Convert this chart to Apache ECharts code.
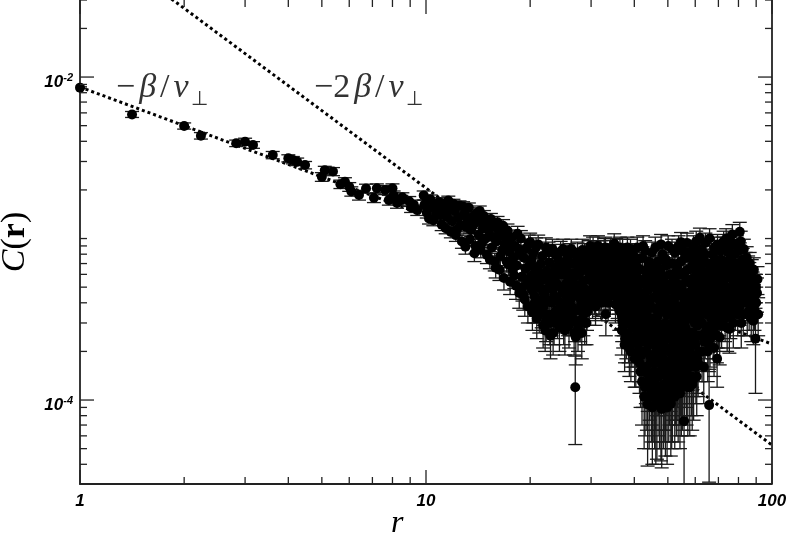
<!DOCTYPE html>
<html>
<head>
<meta charset="utf-8">
<script src="https://cdn.jsdelivr.net/npm/echarts@6/dist/echarts.min.js"></script>
<style>
html,body{margin:0;padding:0;background:#fff;}
#chart{width:789px;height:535px;}
</style>
</head>
<body>
<div id="chart"></div>
<script>
// ---- data: [r, C(r), error] ----
const pointsA = [
  [1.0, 8.6e-3, 1.0e-4], [1.414, 5.87e-3, 2.5e-4], [2.0, 4.98e-3, 2.2e-4], [2.236, 4.33e-3, 2.0e-4],
  [2.828, 3.89e-3, 1.8e-4], [3.0, 3.98e-3, 2.0e-4], [3.162, 3.80e-3, 1.8e-4], [3.606, 3.29e-3, 1.7e-4],
  [4.0, 3.14e-3, 1.6e-4], [4.123, 3.06e-3, 1.6e-4], [4.243, 2.99e-3, 1.6e-4], [4.472, 2.85e-3, 1.5e-4],
  [5.0, 2.41e-3, 1.5e-4], [5.099, 2.65e-3, 1.5e-4], [5.385, 2.60e-3, 1.5e-4], [5.657, 2.17e-3, 1.3e-4],
  [5.831, 2.25e-3, 1.3e-4], [6.0, 2.09e-3, 1.3e-4], [6.083, 1.96e-3, 1.3e-4], [6.403, 1.86e-3, 1.3e-4],
  [6.708, 2.04e-3, 1.3e-4], [7.071, 1.79e-3, 1.2e-4], [7.211, 2.05e-3, 1.3e-4], [7.616, 2.0e-3, 1.3e-4],
  [7.81, 1.73e-3, 1.2e-4], [8.0, 2.05e-3, 1.3e-4], [8.062, 1.85e-3, 1.2e-4], [8.246, 1.66e-3, 1.2e-4],
  [8.485, 1.73e-3, 1.2e-4], [8.544, 1.80e-3, 1.2e-4], [8.944, 1.70e-3, 1.2e-4], [9.055, 1.56e-3, 1.1e-4],
  [9.22, 1.62e-3, 1.1e-4], [9.434, 1.50e-3, 1.1e-4], [9.849, 1.85e-3, 1.2e-4], [9.899, 1.62e-3, 1.1e-4],
  [10.05, 1.45e-3, 1.1e-4], [10.2, 1.33e-3, 1.0e-4], [10.44, 1.55e-3, 1.1e-4], [10.63, 1.58e-3, 1.1e-4],
  [10.82, 1.47e-3, 1.1e-4], [11.0, 1.40e-3, 1.0e-4]
];
const pointsB = [
  [10.3, 1.75e-3, 1.1e-4], [10.5, 1.30e-3, 1.0e-4], [10.7, 1.40e-3, 1.0e-4], [10.9, 1.68e-3, 1.1e-4],
  [11.1, 1.22e-3, 1.0e-4], [11.2, 1.52e-3, 1.1e-4], [11.3, 1.64e-3, 1.1e-4], [11.4, 1.16e-3, 9e-5],
  [11.5, 1.36e-3, 1.0e-4], [11.6, 1.72e-3, 1.1e-4], [11.7, 1.50e-3, 1.1e-4], [11.8, 1.10e-3, 9e-5],
  [11.9, 1.28e-3, 1.0e-4], [12.0, 1.64e-3, 1.1e-4], [12.1, 1.48e-3, 1.1e-4], [12.2, 1.05e-3, 9e-5],
  [12.3, 1.14e-3, 9e-5], [12.4, 1.35e-3, 1.0e-4], [12.5, 1.60e-3, 1.1e-4], [12.6, 1.21e-3, 1.0e-4],
  [12.7, 9.6e-4, 9e-5], [12.8, 1.58e-3, 1.1e-4], [12.9, 1.42e-3, 1.0e-4], [13.0, 8.9e-4, 9e-5],
  [13.1, 1.18e-3, 1.0e-4], [13.2, 1.30e-3, 1.0e-4], [13.3, 1.55e-3, 1.1e-4], [13.4, 9.9e-4, 9e-5],
  [13.5, 1.13e-3, 1.0e-4], [13.6, 1.36e-3, 1.0e-4], [13.7, 1.22e-3, 1.0e-4], [13.8, 8.1e-4, 9e-5],
  [13.9, 9.0e-4, 9e-5], [14.0, 1.44e-3, 1.1e-4], [14.1, 1.28e-3, 1.0e-4], [14.2, 1.05e-3, 1.0e-4],
  [14.3, 1.48e-3, 1.1e-4], [14.4, 8.5e-4, 9e-5], [14.5, 9.4e-4, 1.0e-4], [14.6, 1.16e-3, 1.0e-4],
  [14.7, 1.38e-3, 1.1e-4], [14.8, 1.25e-3, 1.1e-4], [14.9, 1.0e-3, 1.0e-4], [15.0, 7.9e-4, 9e-5],
  [15.1, 1.26e-3, 1.1e-4], [15.2, 1.12e-3, 1.0e-4], [15.3, 7.4e-4, 9e-5], [15.4, 1.32e-3, 1.1e-4],
  [15.5, 8.8e-4, 1.0e-4], [15.6, 1.02e-3, 1.0e-4], [15.7, 1.20e-3, 1.1e-4], [15.8, 7.2e-4, 9e-5],
  [15.9, 6.6e-4, 9e-5], [16.0, 9.6e-4, 1.0e-4], [16.1, 1.26e-3, 1.1e-4], [16.2, 1.13e-3, 1.1e-4],
  [16.3, 6.4e-4, 9e-5], [16.4, 7.8e-4, 1.0e-4], [16.5, 1.06e-3, 1.1e-4], [16.6, 8.5e-4, 1.0e-4],
  [16.7, 1.20e-3, 1.1e-4], [16.8, 5.7e-4, 9e-5], [16.9, 9.2e-4, 1.0e-4], [17.0, 1.0e-3, 1.1e-4],
  [17.1, 7.2e-4, 1.0e-4], [17.2, 1.12e-3, 1.1e-4], [17.3, 6.9e-4, 1.0e-4], [17.4, 8.3e-4, 1.0e-4],
  [17.5, 5.4e-4, 9e-5], [17.6, 9.1e-4, 1.1e-4], [17.7, 1.02e-3, 1.1e-4], [17.8, 6.4e-4, 1.0e-4],
  [17.9, 7.6e-4, 1.0e-4], [18.0, 5.9e-4, 1.0e-4], [18.1, 9.0e-4, 1.1e-4], [18.2, 5.1e-4, 9e-5],
  [18.3, 6.8e-4, 1.0e-4], [18.4, 1.07e-3, 1.2e-4], [18.5, 8.6e-4, 1.1e-4], [18.6, 4.6e-4, 9e-5],
  [18.7, 8.0e-4, 1.1e-4], [18.8, 1.0e-3, 1.2e-4], [18.9, 5.8e-4, 1.0e-4], [19.0, 5.0e-4, 9e-5],
  [19.1, 4.5e-4, 9e-5], [19.2, 7.6e-4, 1.1e-4], [19.3, 4.2e-4, 9e-5], [19.4, 6.5e-4, 1.0e-4],
  [19.5, 8.7e-4, 1.2e-4], [19.6, 5.5e-4, 1.0e-4], [19.7, 3.8e-4, 8e-5], [19.8, 9.3e-4, 1.2e-4],
  [19.9, 6.8e-4, 1.1e-4]
];
const pointsC = [
  [20.0, 9.5e-4, 1.3e-4], [20.1, 5.1e-4, 1.0e-4], [20.2, 7.4e-4, 1.1e-4], [20.3, 3.5e-4, 8e-5],
  [20.4, 8.1e-4, 1.2e-4], [20.5, 6.0e-4, 1.1e-4], [20.6, 4.4e-4, 9e-5], [20.7, 6.6e-4, 1.1e-4],
  [20.8, 8.8e-4, 1.3e-4], [20.9, 3.2e-4, 8e-5], [21.0, 3.8e-4, 8e-5], [21.1, 9.2e-4, 1.3e-4],
  [21.2, 5.3e-4, 1.0e-4], [21.3, 6.0e-4, 1.1e-4], [21.4, 4.1e-4, 9e-5], [21.5, 7.0e-4, 1.2e-4],
  [21.6, 3.6e-4, 8e-5], [21.7, 7.8e-4, 1.2e-4], [21.8, 2.9e-4, 8e-5], [21.9, 4.6e-4, 9e-5],
  [22.0, 5.6e-4, 1.1e-4], [22.1, 2.7e-4, 7e-5], [22.2, 8.8e-4, 1.3e-4], [22.3, 6.3e-4, 1.2e-4],
  [22.4, 3.4e-4, 8e-5], [22.5, 4.9e-4, 1.0e-4], [22.6, 8.2e-4, 1.3e-4], [22.7, 7.1e-4, 1.2e-4],
  [22.8, 3.0e-4, 8e-5], [22.9, 2.5e-4, 7e-5], [23.0, 6.0e-4, 1.1e-4], [23.1, 4.0e-4, 9e-5],
  [23.2, 8.6e-4, 1.3e-4], [23.3, 2.6e-4, 7e-5], [23.4, 5.6e-4, 1.1e-4], [23.5, 4.4e-4, 1.0e-4],
  [23.6, 6.6e-4, 1.2e-4], [23.7, 7.9e-4, 1.3e-4], [23.8, 3.6e-4, 9e-5], [23.9, 5.2e-4, 1.0e-4],
  [24.0, 3.2e-4, 8e-5], [24.1, 7.4e-4, 1.2e-4], [24.2, 6.7e-4, 1.2e-4], [24.3, 2.8e-4, 8e-5],
  [24.4, 4.0e-4, 9e-5], [24.5, 8.3e-4, 1.3e-4], [24.6, 6.0e-4, 1.1e-4], [24.7, 3.4e-4, 8e-5],
  [24.8, 4.6e-4, 1.0e-4], [24.9, 8.6e-4, 1.3e-4], [25.0, 3.0e-4, 8e-5], [25.1, 5.0e-4, 1.0e-4],
  [25.2, 2.7e-4, 8e-5], [25.3, 7.2e-4, 1.2e-4], [25.4, 6.6e-4, 1.2e-4], [25.5, 5.3e-4, 1.1e-4],
  [25.6, 4.0e-4, 9e-5], [25.7, 7.8e-4, 1.3e-4], [25.8, 3.6e-4, 9e-5], [25.9, 2.9e-4, 8e-5],
  [26.0, 8.0e-4, 1.3e-4], [26.1, 5.6e-4, 1.1e-4], [26.2, 4.2e-4, 9e-5], [26.3, 8.6e-4, 1.3e-4],
  [26.4, 3.3e-4, 8e-5], [26.5, 6.1e-4, 1.1e-4], [26.6, 7.0e-4, 1.2e-4], [26.7, 4.6e-4, 1.0e-4],
  [26.8, 2.6e-4, 7e-5], [26.9, 5.8e-4, 1.1e-4], [27.0, 1.2e-4, 6.7e-5], [27.1, 2.45e-4, 8e-5],
  [27.2, 3.6e-4, 9e-5], [27.3, 7.4e-4, 1.2e-4], [27.4, 8.2e-4, 1.3e-4], [27.5, 2.8e-4, 8e-5],
  [27.6, 5.0e-4, 1.0e-4], [27.7, 6.0e-4, 1.1e-4], [27.8, 4.3e-4, 1.0e-4], [27.9, 3.1e-4, 8e-5],
  [28.0, 7.2e-4, 1.2e-4], [28.1, 3.9e-4, 9e-5], [28.2, 2.6e-4, 8e-5], [28.3, 8.5e-4, 1.4e-4],
  [28.4, 5.4e-4, 1.1e-4], [28.5, 3.4e-4, 9e-5], [28.6, 6.4e-4, 1.2e-4], [28.7, 8.0e-4, 1.3e-4],
  [28.8, 4.8e-4, 1.0e-4], [28.9, 4.4e-4, 1.0e-4], [29.0, 6.6e-4, 1.2e-4], [29.1, 3.0e-4, 8e-5],
  [29.2, 3.5e-4, 8e-5], [29.3, 5.6e-4, 1.1e-4], [29.4, 4.0e-4, 9e-5], [29.5, 7.6e-4, 1.3e-4],
  [29.6, 8.4e-4, 1.3e-4], [29.7, 6.0e-4, 1.1e-4], [29.8, 9.0e-4, 1.4e-4]
];
const pointsD = [
  [29.9, 4.6e-4, 1.0e-4], [30.0, 5.5e-4, 1.1e-4], [30.1, 7.6e-4, 1.2e-4], [30.2, 6.2e-4, 1.1e-4],
  [30.3, 4.1e-4, 9e-5], [30.4, 8.8e-4, 1.4e-4], [30.5, 5.0e-4, 1.0e-4], [30.6, 7.1e-4, 1.2e-4],
  [30.7, 4.3e-4, 9e-5], [30.8, 6.6e-4, 1.2e-4], [30.9, 3.8e-4, 9e-5], [31.0, 7.8e-4, 1.3e-4],
  [31.1, 4.8e-4, 1.0e-4], [31.2, 8.4e-4, 1.3e-4], [31.3, 5.8e-4, 1.1e-4], [31.4, 9.0e-4, 1.4e-4],
  [31.5, 5.0e-4, 1.0e-4], [31.6, 4.2e-4, 9e-5], [31.7, 7.2e-4, 1.2e-4], [31.8, 6.3e-4, 1.1e-4],
  [31.9, 5.4e-4, 1.1e-4], [32.0, 8.4e-4, 1.3e-4], [32.1, 4.6e-4, 1.0e-4], [32.2, 4.0e-4, 9e-5],
  [32.3, 6.6e-4, 1.2e-4], [32.4, 5.2e-4, 1.0e-4], [32.5, 8.0e-4, 1.3e-4], [32.6, 7.6e-4, 1.3e-4],
  [32.7, 4.2e-4, 9e-5], [32.8, 5.8e-4, 1.1e-4], [32.9, 6.2e-4, 1.1e-4], [33.0, 8.8e-4, 1.4e-4],
  [33.1, 3.4e-4, 9e-5], [33.2, 5.0e-4, 1.0e-4], [33.4, 6.8e-4, 1.2e-4], [33.5, 7.0e-4, 1.2e-4],
  [33.6, 4.0e-4, 9e-5], [33.7, 7.8e-4, 1.3e-4], [33.8, 5.6e-4, 1.1e-4], [33.9, 4.6e-4, 1.0e-4],
  [34.0, 6.4e-4, 1.2e-4], [34.1, 4.4e-4, 1.0e-4], [34.2, 8.6e-4, 1.4e-4], [34.3, 7.2e-4, 1.2e-4],
  [34.4, 5.0e-4, 1.0e-4], [34.6, 5.4e-4, 1.1e-4], [34.7, 8.0e-4, 1.3e-4], [34.8, 6.0e-4, 1.1e-4],
  [35.0, 9.3e-4, 1.4e-4], [35.1, 4.6e-4, 1.0e-4], [35.2, 7.0e-4, 1.2e-4], [35.3, 3.9e-4, 9e-5],
  [35.4, 5.6e-4, 1.1e-4], [35.5, 8.6e-4, 1.4e-4], [35.7, 6.6e-4, 1.2e-4], [35.8, 4.2e-4, 1.0e-4],
  [35.9, 6.2e-4, 1.1e-4], [36.0, 7.6e-4, 1.3e-4], [36.1, 4.4e-4, 1.0e-4], [36.2, 3.6e-4, 9e-5],
  [36.3, 5.2e-4, 1.0e-4]
];
const pointsE = [
  [36.5, 8.0e-4, 1.3e-4], [36.6, 6.6e-4, 1.2e-4], [36.7, 4.0e-4, 9e-5], [36.8, 2.7e-4, 8e-5],
  [36.9, 3.1e-4, 8e-5], [37.0, 8.6e-4, 1.3e-4], [37.1, 4.8e-4, 1.0e-4], [37.2, 5.6e-4, 1.1e-4],
  [37.3, 3.4e-4, 9e-5], [37.4, 6.2e-4, 1.1e-4], [37.5, 2.2e-4, 7e-5], [37.6, 2.4e-4, 7e-5],
  [37.7, 7.8e-4, 1.3e-4], [37.8, 4.4e-4, 1.0e-4], [37.9, 7.2e-4, 1.2e-4], [38.0, 5.4e-4, 1.1e-4],
  [38.1, 3.0e-4, 8e-5], [38.2, 8.8e-4, 1.4e-4], [38.3, 4.2e-4, 1.0e-4], [38.4, 6.6e-4, 1.2e-4],
  [38.5, 2.5e-4, 8e-5], [38.6, 3.8e-4, 9e-5], [38.7, 2.1e-4, 7e-5], [38.8, 5.0e-4, 1.0e-4],
  [38.9, 7.2e-4, 1.2e-4], [39.0, 8.6e-4, 1.3e-4], [39.1, 2.0e-4, 7e-5], [39.2, 4.4e-4, 1.0e-4],
  [39.3, 6.0e-4, 1.1e-4], [39.4, 3.4e-4, 9e-5], [39.5, 2.8e-4, 8e-5], [39.6, 8.0e-4, 1.3e-4],
  [39.7, 3.6e-4, 9e-5], [39.8, 6.0e-4, 1.1e-4], [39.9, 5.2e-4, 1.0e-4], [40.0, 2.3e-4, 7e-5],
  [40.1, 1.8e-4, 6e-5], [40.2, 7.0e-4, 1.2e-4], [40.3, 3.2e-4, 9e-5], [40.4, 1.9e-4, 7e-5],
  [40.5, 4.8e-4, 1.0e-4], [40.6, 6.0e-4, 1.1e-4], [40.7, 4.0e-4, 9e-5], [40.8, 8.8e-4, 1.4e-4],
  [40.9, 2.7e-4, 8e-5], [41.0, 2.2e-4, 7e-5], [41.1, 5.2e-4, 1.0e-4], [41.2, 3.4e-4, 9e-5],
  [41.3, 7.5e-4, 1.3e-4], [41.4, 1.7e-4, 6e-5]
];
const pointsF = [
  [41.6, 6.4e-4, 1.2e-4], [41.7, 1.5e-4, 6e-5], [41.8, 2.6e-4, 8e-5], [41.9, 4.6e-4, 1.0e-4],
  [42.0, 3.8e-4, 9e-5], [42.1, 1.3e-4, 6e-5], [42.2, 7.6e-4, 1.3e-4], [42.3, 3.2e-4, 9e-5],
  [42.4, 9.0e-4, 1.4e-4], [42.5, 2.0e-4, 7e-5], [42.6, 5.6e-4, 1.1e-4], [42.7, 1.05e-4, 5.5e-5],
  [42.8, 2.3e-4, 8e-5], [42.9, 4.0e-4, 9e-5], [43.0, 8.4e-4, 1.3e-4], [43.1, 5.2e-4, 1.0e-4],
  [43.2, 1.6e-4, 6.5e-5], [43.3, 2.8e-4, 8e-5], [43.4, 6.2e-4, 1.2e-4], [43.5, 1.25e-4, 6e-5],
  [43.6, 3.6e-4, 9e-5], [43.7, 9.4e-5, 5.5e-5], [43.8, 4.8e-4, 1.0e-4], [43.9, 6.8e-4, 1.2e-4],
  [44.0, 2.2e-4, 7e-5], [44.1, 7.2e-4, 1.2e-4], [44.2, 3.0e-4, 8e-5], [44.3, 1.35e-4, 6e-5],
  [44.4, 4.2e-4, 1.0e-4], [44.5, 2.5e-4, 8e-5], [44.6, 1.7e-4, 7e-5], [44.7, 5.8e-4, 1.1e-4],
  [44.8, 1.15e-4, 6e-5], [44.9, 3.2e-4, 9e-5], [45.0, 8.2e-4, 1.3e-4], [45.1, 9.0e-5, 5e-5],
  [45.2, 1.9e-4, 7e-5], [45.3, 6.6e-4, 1.2e-4], [45.4, 4.3e-4, 1.0e-4], [45.5, 3.7e-4, 9e-5],
  [45.6, 1.5e-4, 6e-5], [45.7, 5.0e-4, 1.0e-4], [45.8, 1.05e-4, 5.5e-5], [45.9, 2.8e-4, 8e-5],
  [46.0, 8.8e-4, 1.4e-4], [46.1, 1.25e-4, 6e-5], [46.2, 2.6e-4, 8e-5], [46.3, 4.4e-4, 1.0e-4],
  [46.4, 2.1e-4, 7e-5], [46.5, 9.8e-5, 5.5e-5], [46.6, 6.0e-4, 1.1e-4], [46.7, 3.3e-4, 9e-5],
  [46.8, 7.2e-4, 1.2e-4], [46.9, 1.7e-4, 6.5e-5], [47.0, 1.4e-4, 6e-5], [47.1, 5.4e-4, 1.1e-4],
  [47.2, 2.4e-4, 8e-5], [47.3, 1.1e-4, 6e-5], [47.4, 3.5e-4, 9e-5], [47.5, 4.0e-4, 9e-5],
  [47.6, 6.4e-4, 1.2e-4], [47.7, 1.45e-4, 6e-5], [47.8, 9.2e-4, 1.4e-4], [47.9, 2.9e-4, 8e-5],
  [48.0, 8.8e-5, 5e-5], [48.1, 4.8e-4, 1.0e-4], [48.2, 2.0e-4, 7e-5], [48.3, 8.0e-4, 1.3e-4],
  [48.4, 1.8e-4, 6.5e-5], [48.5, 3.6e-4, 9e-5], [48.6, 5.0e-4, 1.0e-4], [48.7, 1.25e-4, 6e-5],
  [48.8, 5.8e-4, 1.1e-4], [48.9, 2.6e-4, 8e-5], [49.0, 1.15e-4, 6e-5], [49.1, 4.4e-4, 1.0e-4],
  [49.2, 1.0e-4, 5.5e-5], [49.3, 2.1e-4, 7e-5], [49.4, 7.4e-4, 1.2e-4], [49.5, 6.8e-4, 1.2e-4],
  [49.6, 3.4e-4, 9e-5], [49.7, 1.4e-4, 6e-5], [49.8, 2.9e-4, 8e-5], [49.9, 5.2e-4, 1.0e-4],
  [50.0, 2.4e-4, 8e-5], [50.1, 9.0e-4, 1.4e-4], [50.2, 1.6e-4, 6.5e-5], [50.3, 1.15e-4, 6e-5],
  [50.4, 4.2e-4, 1.0e-4], [50.5, 2.8e-4, 8e-5], [50.6, 4.0e-4, 9e-5], [50.7, 6.0e-4, 1.1e-4],
  [50.8, 1.7e-4, 6.5e-5], [50.9, 3.6e-4, 9e-5], [51.0, 9.5e-5, 5e-5], [51.1, 2.0e-4, 7e-5],
  [51.2, 4.8e-4, 1.0e-4], [51.3, 1.05e-4, 5.5e-5], [51.4, 8.6e-4, 1.3e-4], [51.5, 7.0e-4, 1.2e-4],
  [51.6, 3.0e-4, 9e-5], [51.7, 1.35e-4, 6e-5], [51.8, 2.3e-4, 7.5e-5], [51.9, 5.4e-4, 1.1e-4],
  [52.0, 2.5e-4, 8e-5], [52.1, 4.0e-4, 9e-5], [52.2, 5.6e-4, 1.1e-4], [52.3, 1.6e-4, 6.5e-5],
  [52.4, 8.2e-4, 1.3e-4], [52.5, 3.2e-4, 9e-5], [52.6, 1.3e-4, 6e-5], [52.7, 2.1e-4, 7e-5],
  [52.8, 6.2e-4, 1.2e-4], [52.9, 1.2e-4, 6e-5], [53.0, 3.3e-4, 9e-5], [53.1, 4.4e-4, 1.0e-4],
  [53.2, 2.7e-4, 8e-5], [53.3, 1.5e-4, 6e-5], [53.4, 6.8e-4, 1.2e-4], [53.5, 5.2e-4, 1.0e-4],
  [53.6, 3.6e-4, 9e-5], [53.7, 9.0e-4, 1.4e-4], [53.8, 1.9e-4, 7e-5], [53.9, 2.3e-4, 7.5e-5],
  [54.0, 1.3e-4, 6e-5], [54.1, 6.0e-4, 1.1e-4]
];
const pointsG = [
  [54.2, 1.1e-4, 6e-5], [54.3, 3.8e-4, 9e-5], [54.4, 2.0e-4, 7e-5], [54.5, 7.2e-4, 1.2e-4],
  [54.6, 9.5e-4, 1.4e-4], [54.7, 1.2e-4, 6e-5], [54.8, 5.0e-4, 1.0e-4], [54.9, 2.9e-4, 8e-5],
  [55.0, 4.5e-4, 1.0e-4], [55.1, 1.6e-4, 6.5e-5], [55.2, 8.4e-4, 1.3e-4], [55.3, 3.4e-4, 9e-5],
  [55.4, 2.6e-4, 8e-5], [55.5, 6.0e-4, 1.1e-4], [55.6, 2.3e-4, 7.5e-5], [55.7, 7.4e-5, 7.5e-5],
  [55.8, 4.2e-4, 1.0e-4], [55.9, 1.4e-4, 6e-5], [56.0, 6.2e-4, 1.1e-4], [56.1, 7.6e-4, 1.3e-4],
  [56.2, 2.8e-4, 8e-5], [56.4, 5.4e-4, 1.1e-4], [56.5, 1.5e-4, 6e-5], [56.6, 1.9e-4, 7e-5],
  [56.7, 3.8e-4, 9e-5], [56.8, 9.4e-4, 1.4e-4], [57.0, 3.6e-4, 9e-5], [57.1, 1.2e-4, 6e-5],
  [57.2, 6.4e-4, 1.2e-4], [57.3, 2.6e-4, 8e-5], [57.4, 8.2e-4, 1.3e-4], [57.5, 4.6e-4, 1.0e-4],
  [57.7, 1.6e-4, 6.5e-5], [57.8, 3.2e-4, 9e-5], [57.9, 2.1e-4, 7e-5], [58.0, 7.6e-4, 1.3e-4],
  [58.1, 2.2e-4, 7e-5], [58.3, 5.6e-4, 1.1e-4], [58.4, 5.2e-4, 1.0e-4], [58.5, 1.4e-4, 6e-5],
  [58.6, 3.8e-4, 9e-5], [58.8, 1.25e-4, 6e-5], [58.9, 6.8e-4, 1.2e-4], [59.0, 2.6e-4, 8e-5],
  [59.2, 4.6e-4, 1.0e-4], [59.3, 9.0e-4, 1.4e-4], [59.4, 1.7e-4, 6.5e-5], [59.5, 8.4e-4, 1.3e-4],
  [59.7, 3.4e-4, 9e-5], [59.8, 3.0e-4, 8e-5], [59.9, 5.8e-4, 1.1e-4], [60.0, 2.2e-4, 7e-5],
  [60.2, 4.0e-4, 9e-5], [60.3, 7.0e-4, 1.2e-4], [60.4, 9.6e-4, 1.5e-4], [60.6, 1.4e-4, 6e-5],
  [60.7, 6.2e-4, 1.2e-4], [60.8, 1.8e-4, 7e-5], [60.9, 2.9e-4, 8e-5], [61.1, 5.0e-4, 1.0e-4],
  [61.3, 4.2e-4, 9e-5], [61.4, 7.8e-4, 1.3e-4], [61.6, 2.0e-4, 7e-5], [61.7, 3.6e-4, 9e-5]
];
const pointsH = [
  [61.9, 1.01e-3, 1.5e-4], [62.1, 6.6e-4, 1.2e-4], [62.2, 4.6e-4, 1.0e-4], [62.4, 2.5e-4, 8e-5],
  [62.6, 8.6e-4, 1.3e-4], [62.7, 3.0e-4, 9e-5], [62.9, 5.8e-4, 1.1e-4], [63.1, 5.2e-4, 1.0e-4],
  [63.3, 7.4e-4, 1.2e-4], [63.5, 1.6e-4, 6.5e-5], [63.7, 2.3e-4, 7.5e-5], [63.8, 4.0e-4, 9e-5],
  [64.0, 8.0e-4, 1.3e-4], [64.2, 9.4e-4, 1.4e-4], [64.4, 6.0e-4, 1.1e-4], [64.6, 3.4e-4, 9e-5],
  [64.8, 2.8e-4, 8e-5], [65.0, 4.8e-4, 1.0e-4], [65.2, 2.0e-4, 7e-5], [65.4, 7.0e-4, 1.2e-4],
  [65.6, 3.6e-4, 9e-5], [65.8, 9.3e-5, 6.2e-5], [66.0, 1.0e-3, 1.5e-4], [66.2, 2.4e-4, 8e-5],
  [66.4, 6.6e-4, 1.2e-4], [66.6, 5.4e-4, 1.1e-4], [66.8, 3.2e-4, 9e-5], [67.0, 4.6e-4, 1.0e-4],
  [67.2, 8.0e-4, 1.3e-4], [67.4, 4.2e-4, 1.0e-4], [67.6, 2.6e-4, 8e-5], [67.8, 6.2e-4, 1.2e-4],
  [68.0, 2.1e-4, 7e-5], [68.2, 8.8e-4, 1.4e-4], [68.4, 4.8e-4, 1.0e-4], [68.6, 7.4e-4, 1.2e-4],
  [68.8, 3.6e-4, 9e-5], [69.0, 3.0e-4, 9e-5], [69.2, 5.8e-4, 1.1e-4], [69.4, 1.8e-4, 6e-5],
  [69.6, 9.2e-4, 1.4e-4], [69.8, 4.0e-4, 9e-5], [70.0, 5.4e-4, 1.1e-4], [70.2, 6.8e-4, 1.2e-4],
  [70.4, 3.4e-4, 9e-5]
];
const pointsI = [
  [70.6, 2.45e-4, 8e-5], [70.9, 8.4e-4, 1.3e-4], [71.0, 5.0e-4, 1.0e-4], [71.2, 7.4e-4, 1.2e-4],
  [71.5, 2.9e-4, 8e-5], [71.6, 6.4e-4, 1.2e-4], [71.8, 4.2e-4, 1.0e-4], [72.0, 8.8e-4, 1.4e-4],
  [72.2, 3.6e-4, 9e-5], [72.5, 9.6e-4, 1.5e-4], [72.8, 5.6e-4, 1.1e-4], [73.0, 7.2e-4, 1.2e-4],
  [73.2, 3.2e-4, 9e-5], [73.5, 4.4e-4, 1.0e-4], [73.7, 1.0e-3, 1.5e-4], [73.9, 6.0e-4, 1.1e-4],
  [74.2, 2.8e-4, 8e-5], [74.4, 6.4e-4, 1.2e-4], [74.6, 8.2e-4, 1.3e-4], [74.9, 4.0e-4, 9e-5],
  [75.1, 8.8e-4, 1.4e-4], [75.3, 2.75e-4, 8e-5], [75.6, 5.8e-4, 1.1e-4], [75.8, 3.3e-4, 9e-5],
  [76.0, 4.8e-4, 1.0e-4], [76.3, 7.2e-4, 1.2e-4], [76.5, 4.2e-4, 1.0e-4], [76.8, 1.06e-3, 1.6e-4],
  [77.1, 9.4e-4, 1.4e-4], [77.3, 3.0e-4, 9e-5], [77.5, 6.6e-4, 1.2e-4], [77.8, 5.2e-4, 1.0e-4],
  [78.0, 8.0e-4, 1.3e-4], [78.3, 3.6e-4, 9e-5], [78.6, 6.2e-4, 1.2e-4], [78.8, 4.0e-4, 9e-5],
  [79.1, 9.0e-4, 1.4e-4], [79.4, 7.0e-4, 1.2e-4], [79.6, 3.4e-4, 9e-5], [79.9, 5.2e-4, 1.1e-4],
  [80.2, 8.4e-4, 1.3e-4], [80.4, 4.6e-4, 1.0e-4], [80.7, 1.1e-3, 1.6e-4], [81.0, 6.4e-4, 1.2e-4],
  [81.2, 9.6e-4, 1.5e-4], [81.5, 3.0e-4, 9e-5], [81.8, 4.0e-4, 9e-5], [82.0, 5.6e-4, 1.1e-4],
  [82.3, 7.4e-4, 1.3e-4], [82.6, 3.4e-4, 9e-5], [82.9, 8.6e-4, 1.3e-4]
];
const pointsJ = [
  [83.1, 4.4e-4, 1.0e-4], [83.4, 6.0e-4, 1.1e-4], [83.9, 7.0e-4, 1.2e-4], [84.2, 5.0e-4, 1.0e-4],
  [84.5, 7.6e-4, 1.3e-4], [84.8, 3.4e-4, 9e-5], [85.1, 4.2e-4, 1.0e-4], [85.3, 6.6e-4, 1.2e-4],
  [85.6, 5.6e-4, 1.1e-4], [85.9, 3.6e-4, 9e-5], [86.2, 7.0e-4, 1.2e-4], [86.5, 4.0e-4, 1.0e-4],
  [86.8, 5.0e-4, 1.0e-4], [87.1, 3.2e-4, 9e-5], [87.4, 6.2e-4, 1.2e-4], [87.7, 5.6e-4, 1.1e-4],
  [88.0, 4.2e-4, 1.0e-4], [88.3, 3.1e-4, 9e-5], [88.6, 6.4e-4, 1.2e-4], [89.0, 3.6e-4, 9e-5],
  [89.3, 5.0e-4, 1.0e-4], [89.6, 2.4e-4, 1.3e-4], [90.0, 4.0e-4, 1.0e-4], [90.5, 4.6e-4, 1.1e-4],
  [90.8, 5.6e-4, 1.1e-4], [91.2, 3.4e-4, 9e-5]
];
const pointsK = [
  [20.05, 5.8e-4, 1.1e-4], [20.25, 4.8e-4, 1.0e-4], [20.45, 3.9e-4, 9e-5], [20.65, 5.4e-4, 1.0e-4],
  [20.85, 4.2e-4, 9e-5], [21.05, 6.4e-4, 1.2e-4], [21.25, 3.4e-4, 8e-5], [21.45, 4.9e-4, 1.0e-4],
  [21.65, 5.8e-4, 1.1e-4], [21.85, 3.8e-4, 9e-5], [22.05, 4.4e-4, 1.0e-4], [22.25, 3.1e-4, 8e-5],
  [22.45, 5.9e-4, 1.1e-4], [22.65, 4.1e-4, 9e-5], [22.85, 5.2e-4, 1.0e-4], [23.05, 3.4e-4, 9e-5],
  [23.25, 4.8e-4, 1.0e-4], [23.45, 3.0e-4, 8e-5], [23.65, 5.4e-4, 1.1e-4], [23.85, 4.2e-4, 9e-5],
  [24.05, 6.2e-4, 1.1e-4], [24.25, 3.6e-4, 9e-5], [24.55, 5.0e-4, 1.0e-4], [24.85, 3.9e-4, 9e-5],
  [25.15, 6.0e-4, 1.1e-4], [25.45, 4.4e-4, 1.0e-4], [25.75, 3.3e-4, 8e-5], [26.05, 4.9e-4, 1.0e-4],
  [26.35, 3.8e-4, 9e-5], [26.65, 5.3e-4, 1.1e-4], [26.95, 3.1e-4, 8e-5], [27.25, 4.6e-4, 1.0e-4],
  [27.55, 6.6e-4, 1.2e-4], [27.85, 3.6e-4, 9e-5], [28.15, 5.0e-4, 1.0e-4], [28.45, 4.1e-4, 9e-5],
  [28.75, 3.0e-4, 8e-5], [29.05, 4.8e-4, 1.0e-4], [29.35, 6.8e-4, 1.2e-4], [29.65, 3.8e-4, 9e-5],
  [30.05, 6.8e-4, 1.2e-4], [30.35, 5.6e-4, 1.1e-4], [30.65, 8.2e-4, 1.3e-4], [30.95, 5.2e-4, 1.0e-4],
  [31.25, 6.9e-4, 1.2e-4], [31.55, 7.6e-4, 1.3e-4], [31.85, 4.4e-4, 1.0e-4], [32.15, 7.0e-4, 1.2e-4],
  [32.45, 5.8e-4, 1.1e-4], [32.75, 8.6e-4, 1.4e-4], [33.05, 4.6e-4, 1.0e-4], [33.35, 5.6e-4, 1.1e-4],
  [33.65, 7.2e-4, 1.2e-4], [33.95, 8.4e-4, 1.3e-4], [34.25, 5.6e-4, 1.1e-4], [34.55, 6.8e-4, 1.2e-4],
  [34.85, 4.8e-4, 1.0e-4], [35.15, 8.0e-4, 1.3e-4], [35.45, 6.2e-4, 1.1e-4], [35.75, 7.4e-4, 1.2e-4],
  [36.05, 5.6e-4, 1.1e-4], [36.35, 8.8e-4, 1.4e-4],
  [36.55, 5.4e-4, 1.1e-4], [36.75, 3.4e-4, 9e-5], [36.95, 6.8e-4, 1.2e-4], [37.15, 2.9e-4, 8e-5],
  [37.35, 4.6e-4, 1.0e-4], [37.55, 7.0e-4, 1.2e-4], [37.75, 3.6e-4, 9e-5], [37.95, 2.6e-4, 8e-5],
  [38.15, 6.0e-4, 1.1e-4], [38.35, 4.8e-4, 1.0e-4], [38.55, 8.0e-4, 1.3e-4], [38.75, 3.2e-4, 9e-5],
  [38.95, 4.2e-4, 1.0e-4], [39.15, 6.6e-4, 1.2e-4], [39.35, 2.4e-4, 8e-5], [39.55, 5.4e-4, 1.1e-4],
  [39.75, 4.4e-4, 1.0e-4], [39.95, 3.0e-4, 8e-5], [40.15, 7.6e-4, 1.3e-4], [40.35, 5.6e-4, 1.1e-4],
  [40.55, 2.5e-4, 8e-5], [40.75, 3.6e-4, 9e-5], [40.95, 6.6e-4, 1.2e-4], [41.15, 4.4e-4, 1.0e-4],
  [41.35, 2.0e-4, 7e-5], [41.55, 3.0e-4, 9e-5]
];
const pointsL = [
  [41.75, 3.6e-4, 9e-5], [41.95, 1.9e-4, 7e-5], [42.15, 2.4e-4, 8e-5], [42.35, 1.5e-4, 6e-5],
  [42.55, 4.4e-4, 1.0e-4], [42.75, 2.9e-4, 8e-5], [42.95, 1.2e-4, 6e-5], [43.15, 3.4e-4, 9e-5],
  [43.35, 2.0e-4, 7e-5], [43.55, 5.6e-4, 1.1e-4], [43.75, 1.45e-4, 6e-5], [43.95, 2.6e-4, 8e-5],
  [44.15, 1.05e-4, 5.5e-5], [44.35, 3.8e-4, 9e-5], [44.55, 1.85e-4, 7e-5], [44.75, 2.3e-4, 7.5e-5],
  [44.95, 1.3e-4, 6e-5], [45.15, 5.2e-4, 1.0e-4], [45.35, 2.4e-4, 8e-5], [45.55, 1.1e-4, 5.5e-5],
  [45.75, 3.2e-4, 9e-5], [45.95, 1.7e-4, 6.5e-5], [46.15, 9.5e-5, 5.5e-5], [46.35, 3.0e-4, 8e-5],
  [46.55, 1.4e-4, 6e-5], [46.75, 2.2e-4, 7e-5], [46.95, 4.6e-4, 1.0e-4], [47.15, 1.2e-4, 6e-5],
  [47.35, 1.9e-4, 7e-5], [47.55, 2.7e-4, 8e-5], [47.75, 9.2e-5, 5e-5], [47.95, 3.8e-4, 9e-5],
  [48.15, 1.55e-4, 6e-5], [48.35, 2.3e-4, 7.5e-5], [48.55, 1.05e-4, 5.5e-5], [48.75, 4.2e-4, 1.0e-4],
  [48.95, 1.75e-4, 6.5e-5], [49.15, 3.0e-4, 8e-5], [49.35, 1.25e-4, 6e-5], [49.55, 2.4e-4, 8e-5],
  [49.75, 9.0e-5, 5e-5], [49.95, 1.6e-4, 6.5e-5], [50.15, 3.4e-4, 9e-5], [50.35, 2.0e-4, 7e-5],
  [50.55, 1.3e-4, 6e-5], [50.75, 2.6e-4, 8e-5], [50.95, 1.45e-4, 6e-5], [51.15, 3.8e-4, 9e-5],
  [51.35, 1.8e-4, 6.5e-5], [51.55, 1.15e-4, 6e-5], [51.75, 2.7e-4, 8e-5], [51.95, 1.5e-4, 6e-5],
  [52.15, 2.2e-4, 7e-5], [52.35, 1.05e-4, 5.5e-5], [52.55, 4.6e-4, 1.0e-4], [52.75, 1.7e-4, 6.5e-5],
  [52.95, 2.9e-4, 8e-5], [53.15, 1.35e-4, 6e-5], [53.35, 2.1e-4, 7e-5], [53.55, 1.15e-4, 6e-5],
  [53.75, 3.0e-4, 8e-5], [53.95, 1.6e-4, 6.5e-5], [54.15, 2.5e-4, 8e-5], [54.35, 1.4e-4, 6e-5],
  [54.55, 3.2e-4, 9e-5], [54.75, 1.75e-4, 6.5e-5], [54.95, 2.2e-4, 7e-5],
  [55.15, 1.25e-4, 6e-5], [55.45, 2.0e-4, 7e-5], [55.75, 3.0e-4, 8e-5], [56.05, 1.7e-4, 6.5e-5],
  [56.35, 4.0e-4, 9e-5], [56.65, 1.3e-4, 6e-5], [56.95, 2.4e-4, 8e-5], [57.25, 1.8e-4, 6.5e-5],
  [57.55, 3.3e-4, 9e-5], [57.85, 1.2e-4, 6e-5], [58.15, 4.2e-4, 1.0e-4], [58.45, 2.6e-4, 8e-5],
  [58.75, 1.9e-4, 7e-5], [59.05, 3.6e-4, 9e-5], [59.35, 1.35e-4, 6e-5], [59.65, 2.3e-4, 7.5e-5],
  [59.95, 4.6e-4, 1.0e-4], [60.25, 1.6e-4, 6.5e-5], [60.55, 3.0e-4, 8e-5], [60.85, 2.5e-4, 8e-5],
  [61.15, 1.7e-4, 6.5e-5], [61.45, 3.2e-4, 9e-5], [61.75, 5.4e-4, 1.1e-4],
  [62.3, 3.6e-4, 9e-5], [62.8, 2.0e-4, 7e-5], [63.2, 4.2e-4, 1.0e-4], [63.6, 6.2e-4, 1.1e-4],
  [64.1, 2.6e-4, 8e-5], [64.5, 4.4e-4, 1.0e-4], [64.9, 3.8e-4, 9e-5], [65.3, 5.6e-4, 1.1e-4],
  [65.7, 2.2e-4, 7e-5], [66.1, 4.0e-4, 9e-5], [66.5, 2.9e-4, 8e-5], [66.9, 6.0e-4, 1.1e-4],
  [67.3, 3.6e-4, 9e-5], [67.7, 5.0e-4, 1.0e-4], [68.1, 2.8e-4, 8e-5], [68.5, 4.0e-4, 9e-5],
  [68.9, 6.4e-4, 1.2e-4], [69.3, 2.5e-4, 8e-5], [69.7, 4.6e-4, 1.0e-4], [70.1, 3.0e-4, 9e-5],
  [70.5, 4.8e-4, 1.0e-4], [71.1, 3.6e-4, 9e-5], [71.7, 5.6e-4, 1.1e-4], [72.3, 4.6e-4, 1.0e-4],
  [72.9, 3.8e-4, 9e-5], [73.4, 6.2e-4, 1.2e-4], [74.0, 5.0e-4, 1.0e-4], [74.7, 3.6e-4, 9e-5],
  [75.4, 7.4e-4, 1.2e-4], [76.1, 3.9e-4, 9e-5], [76.7, 5.6e-4, 1.1e-4], [77.4, 4.6e-4, 1.0e-4],
  [78.1, 6.6e-4, 1.2e-4], [78.7, 5.0e-4, 1.0e-4], [79.3, 4.4e-4, 1.0e-4], [80.0, 6.0e-4, 1.1e-4],
  [80.6, 3.8e-4, 9e-5], [81.3, 5.2e-4, 1.0e-4], [82.1, 6.6e-4, 1.2e-4], [82.8, 4.8e-4, 1.0e-4],
  [83.6, 5.4e-4, 1.1e-4], [84.4, 4.0e-4, 9e-5], [85.2, 5.2e-4, 1.0e-4], [86.0, 6.0e-4, 1.1e-4],
  [86.9, 4.6e-4, 1.0e-4], [87.9, 5.2e-4, 1.0e-4], [88.9, 4.4e-4, 1.0e-4], [89.9, 5.0e-4, 1.0e-4]
];
const correlation = [].concat(pointsA, pointsB, pointsC, pointsD, pointsE, pointsF, pointsG, pointsH, pointsI, pointsJ, pointsK, pointsL);

// fitted power laws (end points): slopes -beta/nu and -2 beta/nu
const fitOneBeta = [[1, 8.67e-3], [100, 2.22e-4]];
const fitTwoBeta = [[1, 8.03e-2], [100, 5.26e-5]];

// axes
const xRange = [1, 100];
const yRange = [3.02e-5, 3.0e-2];
const xMajorTicks = [1, 10, 100];
const xMinorTicks = [2, 3, 4, 5, 6, 7, 8, 9, 20, 30, 40, 50, 60, 70, 80, 90];
const yMajorTicks = [1e-4, 1e-2];
const yMinorTicks = [4e-5, 5e-5, 6e-5, 7e-5, 8e-5, 9e-5,
  2e-4, 3e-4, 4e-4, 5e-4, 6e-4, 7e-4, 8e-4, 9e-4, 1e-3,
  2e-3, 3e-3, 4e-3, 5e-3, 6e-3, 7e-3, 8e-3, 9e-3, 2e-2, 3e-2];
const xTickLabels = [1, 10, 100];
const yTickLabelExponents = [-2, -4];

const labelFont = 'Liberation Sans';
const mathFont = 'Liberation Serif';
const frameColor = '#222';
const MAJOR = 14, MINOR = 7;

const chart = echarts.init(document.getElementById('chart'), null, {renderer: 'canvas'});

function renderFrame(params, api) {
  const cs = params.coordSys;
  const kids = [];
  const L = cs.x, R = cs.x + cs.width, T = cs.y, B = cs.y + cs.height;
  const st = {stroke: frameColor, lineWidth: 1.3};
  kids.push({type: 'line', shape: {x1: R, y1: T, x2: R, y2: B}, style: {stroke: frameColor, lineWidth: 1.8}});
  function xt(v, len) {
    const p = api.coord([v, yRange[0]]);
    kids.push({type: 'line', shape: {x1: p[0], y1: B, x2: p[0], y2: B - len}, style: st});
    kids.push({type: 'line', shape: {x1: p[0], y1: T, x2: p[0], y2: T + len}, style: st});
  }
  function yt(v, len) {
    const p = api.coord([xRange[0], v]);
    kids.push({type: 'line', shape: {x1: L, y1: p[1], x2: L + len, y2: p[1]}, style: st});
    kids.push({type: 'line', shape: {x1: R, y1: p[1], x2: R - len, y2: p[1]}, style: st});
  }
  xMajorTicks.forEach(v => xt(v, MAJOR));
  xMinorTicks.forEach(v => xt(v, MINOR));
  yMajorTicks.forEach(v => yt(v, MAJOR));
  yMinorTicks.forEach(v => yt(v, MINOR));
  return {type: 'group', children: kids};
}

function renderErr(params, api) {
  const r = api.value(0);
  const lo = api.value(2), hi = api.value(3);
  const cs = params.coordSys;
  const top = cs.y, bot = cs.y + cs.height;
  const x = api.coord([r, api.value(1)])[0];
  const yLo = lo > 0 ? api.coord([r, lo])[1] : Infinity;
  const yHi = api.coord([r, hi])[1];
  const kids = [];
  const capLo = yLo <= bot, capHi = yHi >= top;
  const y1 = Math.max(yHi, top), y2 = Math.min(yLo, bot);
  const st = {stroke: '#1a1a1a', lineWidth: 1.3};
  kids.push({type: 'line', shape: {x1: x, y1: y1, x2: x, y2: y2}, style: st});
  const hw = 7;
  if (capLo) kids.push({type: 'line', shape: {x1: x - hw, y1: yLo, x2: x + hw, y2: yLo}, style: st});
  if (capHi) kids.push({type: 'line', shape: {x1: x - hw, y1: yHi, x2: x + hw, y2: yHi}, style: st});
  return {type: 'group', children: kids};
}

const errData = correlation.map(p => [p[0], p[1], p[1] - p[2], p[1] + p[2]]);
const pointData = correlation.map(p => [p[0], p[1]]);

const annRich = {
  m: {fontFamily: mathFont, fontSize: 34, fill: '#333', padding: [0, 2, 0, 2]},
  i: {fontFamily: mathFont, fontStyle: 'italic', fontSize: 34, fill: '#333', padding: [0, 2, 0, 2]},
  u: {fontFamily: 'DejaVu Sans', fontSize: 20, fill: '#333', verticalAlign: 'bottom', lineHeight: 44}
};

const option = {
  animation: false,
  backgroundColor: '#fff',
  grid: {left: 80, right: 17, top: 0, bottom: 51, outerBoundsMode: 'none', containLabel: false},
  xAxis: {
    type: 'log', logBase: 10, min: xRange[0], max: xRange[1], splitNumber: 2,
    axisLine: {show: true, lineStyle: {color: frameColor, width: 1.8}},
    axisTick: {show: false}, splitLine: {show: false}, minorTick: {show: false},
    axisLabel: {
      margin: 9,
      fontFamily: labelFont, fontWeight: 'bold', fontStyle: 'italic', fontSize: 17, color: '#000',
      formatter: function (v) {
        for (const t of xTickLabels) { if (Math.abs(Math.log10(v) - Math.log10(t)) < 0.01) return String(t); }
        return '';
      }
    }
  },
  yAxis: {
    type: 'log', logBase: 10, min: yRange[0], max: yRange[1], splitNumber: 3,
    axisLine: {show: true, lineStyle: {color: frameColor, width: 1.8}},
    axisTick: {show: false}, splitLine: {show: false}, minorTick: {show: false},
    name: '{i|C}{n|(}{b|r}{n|)}',
    nameLocation: 'middle', nameGap: 48, nameRotate: 90,
    nameTextStyle: {
      rich: {
        i: {fontFamily: mathFont, fontStyle: 'italic', fontSize: 34, color: '#000'},
        n: {fontFamily: mathFont, fontSize: 34, color: '#000'},
        b: {fontFamily: mathFont, fontWeight: 'bold', fontSize: 34, color: '#000'}
      }
    },
    axisLabel: {
      margin: 7,
      padding: [9, 0, 0, 0],
      formatter: function (v) {
        const lg = Math.log10(v), e = Math.round(lg);
        if (Math.abs(lg - e) > 0.01 || yTickLabelExponents.indexOf(e) < 0) return '';
        return '{b|10}{s|' + e + '}';
      },
      rich: {
        b: {fontFamily: labelFont, fontWeight: 'bold', fontStyle: 'italic', fontSize: 17, color: '#000', verticalAlign: 'bottom', lineHeight: 19},
        s: {fontFamily: labelFont, fontWeight: 'bold', fontStyle: 'italic', fontSize: 11, color: '#000', verticalAlign: 'top', lineHeight: 19}
      }
    }
  },
  graphic: [
    {type: 'text', left: 391, top: 508, style: {text: 'r', fontFamily: mathFont, fontStyle: 'italic', fontSize: 32, fill: '#000'}},
    {type: 'text', left: 116, top: 71, style: {text: '{m|−}{i|β}{m|/}{i|ν}{u|⊥}', rich: annRich}},
    {type: 'text', left: 314, top: 71, style: {text: '{m|−2}{i|β}{m|/}{i|ν}{u|⊥}', rich: annRich}}
  ],
  series: [
    {type: 'custom', name: 'frame', renderItem: renderFrame, data: [[10, 1e-3]], z: 10, silent: true},
    {type: 'line', data: fitOneBeta, symbol: 'none', lineStyle: {color: '#000', width: 3, type: [3, 3]}, z: 4, silent: true},
    {type: 'line', data: fitTwoBeta, symbol: 'none', lineStyle: {color: '#000', width: 3, type: [3, 3]}, z: 4, silent: true},
    {type: 'custom', name: 'errors', renderItem: renderErr, data: errData, encode: {x: 0, y: 1}, z: 5, clip: true, silent: true},
    {type: 'scatter', data: pointData, symbol: 'circle', symbolSize: 10, itemStyle: {color: '#000', opacity: 1}, z: 6, silent: true, clip: false, large: false}
  ]
};
chart.setOption(option);
</script>
</body>
</html>
